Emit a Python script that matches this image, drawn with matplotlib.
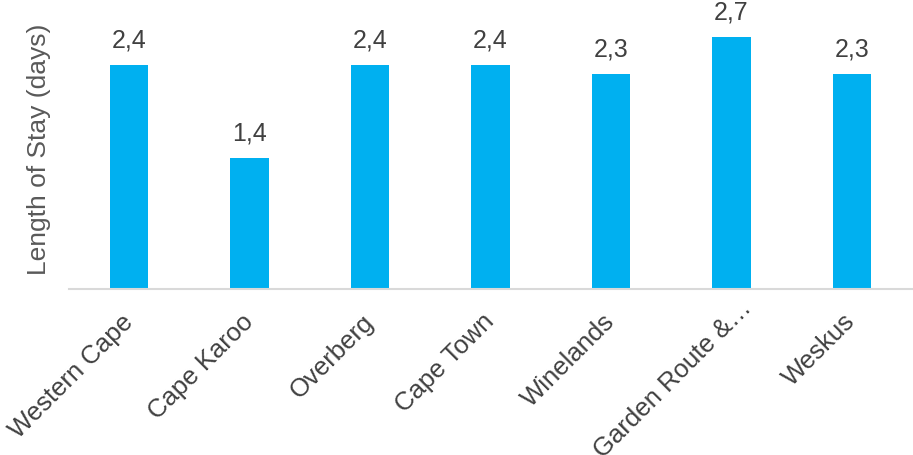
import matplotlib
matplotlib.use("Agg")
import matplotlib.pyplot as plt
from matplotlib.transforms import ScaledTranslation

plt.rcParams['font.family'] = ['Liberation Sans', 'DejaVu Sans']

regions = ["Western Cape", "Cape Karoo", "Overberg", "Cape Town",
           "Winelands", "Garden Route &\u2026", "Weskus"]
stay_days = [2.4, 1.4, 2.4, 2.4, 2.3, 2.7, 2.3]

fig = plt.figure(figsize=(9.13, 4.55), dpi=100)
ax = fig.add_axes([69 / 913, 1 - 289 / 455, (912 - 69) / 913, 280 / 455])

x = list(range(len(regions)))
bars = ax.bar(x, stay_days, width=0.32, color="#00B0F0", zorder=2)

for xi, v in zip(x, stay_days):
    ax.annotate(f"{v:.1f}".replace(".", ","), (xi, v), xytext=(0, 9),
                textcoords="offset points", ha="center", va="bottom",
                fontsize=18, color="#404040", annotation_clip=False)

ax.set_xlim(-0.5, len(regions) - 0.5)
ax.set_ylim(0, 3)
ax.set_yticks([])
ax.set_xticks(x)
ax.set_xticklabels(regions, rotation=45, ha="right", va="center",
                   rotation_mode="anchor", fontsize=18.5, color="#404040")
ax.tick_params(axis="x", length=0, pad=21)

# the truncated label hangs its ellipsis past the tick
long_label = ax.get_xticklabels()[5]
long_label.set_transform(long_label.get_transform()
                         + ScaledTranslation(0.16, 0.14, fig.dpi_scale_trans))

for side in ("top", "right", "left"):
    ax.spines[side].set_visible(False)
ax.spines["bottom"].set_color("#D9D9D9")
ax.spines["bottom"].set_linewidth(1.5)

ax.set_ylabel("Length of Stay (days)", fontsize=19, color="#595959", labelpad=13)

fig.savefig("out.png", dpi=100)
